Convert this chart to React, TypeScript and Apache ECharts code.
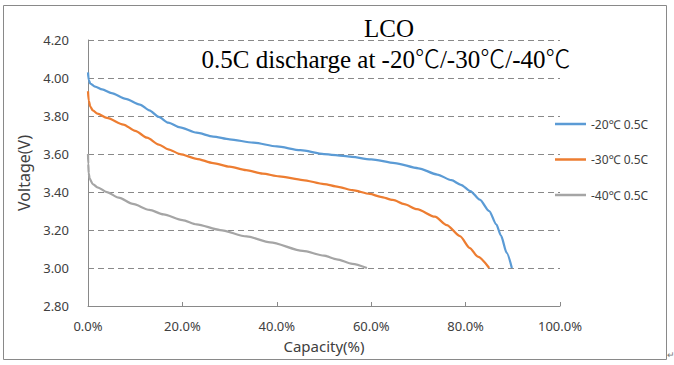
import React, { useEffect, useRef } from "react";
import * as echarts from "echarts";

const seriesNames = ["-20℃ 0.5C", "-30℃ 0.5C", "-40℃ 0.5C"];
const seriesColors = ["#5B9BD5", "#ED7D31", "#A5A5A5"];

// [capacity %, voltage V]
const minus20: [number, number][] = [
  [0, 4.03], [0.15, 3.99], [0.5, 3.97], [1.5, 3.955], [3, 3.94], [5, 3.92], [8, 3.89],
  [11, 3.86], [13, 3.83], [15, 3.795], [17, 3.765], [19.5, 3.74], [23, 3.712],
  [26.5, 3.692], [30, 3.677], [35, 3.66], [40, 3.64], [45, 3.62], [50, 3.60],
  [55, 3.588], [60, 3.572], [65, 3.552], [70, 3.525], [74, 3.492], [77, 3.462],
  [79, 3.438], [81, 3.405], [83, 3.36], [85, 3.30], [86.5, 3.23], [87.5, 3.17],
  [88.7, 3.08], [89.8, 3.0],
];
const minus30: [number, number][] = [
  [0, 3.93], [0.15, 3.88], [0.5, 3.85], [1, 3.83], [2, 3.812], [4, 3.79], [7.5, 3.755],
  [10, 3.722], [12.5, 3.686], [15, 3.65], [17, 3.625], [19.5, 3.60], [23, 3.575],
  [26.5, 3.552], [30, 3.533], [33.5, 3.515], [37, 3.497], [40.5, 3.482], [45.5, 3.463],
  [50, 3.442], [53, 3.427], [56, 3.41], [59.7, 3.39], [62, 3.375], [64.6, 3.358],
  [67, 3.336], [69.7, 3.31], [73.5, 3.27], [76, 3.226], [78.8, 3.168], [80.9, 3.105],
  [82.6, 3.06], [85, 3.0],
];
const minus40: [number, number][] = [
  [0, 3.60], [0.05, 3.55], [0.15, 3.50], [0.35, 3.47], [1, 3.442], [2, 3.425], [4, 3.40],
  [6.5, 3.37], [9.5, 3.337], [13, 3.306], [16, 3.282], [20, 3.252], [23, 3.23],
  [28, 3.20], [33.6, 3.166], [38.6, 3.135], [45.5, 3.09], [50, 3.065], [52.7, 3.046],
  [56, 3.022], [59.1, 3.0],
];
const seriesData = [minus20, minus30, minus40];

const xTicks = { min: 0, max: 100, interval: 20 };
const yTicks = { min: 2.8, max: 4.2, interval: 0.2 };

const titleText = "LCO";
const subtitleText = "0.5C discharge at -20℃/-30℃/-40℃";
const xName = "Capacity(%)";
const yName = "Voltage(V)";

const axisGray = "#898989";
const textColor = "#404040";
const sans = "Noto Sans";
const serif = "'Liberation Serif', 'Noto Sans CJK SC'";

export default function App() {
  const ref = useRef<HTMLDivElement>(null);
  useEffect(() => {
    document.body.style.margin = "0";
    if (!ref.current) return;
    const chart = echarts.init(ref.current, null, { renderer: "svg" });
    chart.setOption({
      animation: false,
      backgroundColor: "#ffffff",
      title: [
        {
          text: titleText,
          left: 384,
          top: 11,
          textAlign: "center",
          textStyle: { fontFamily: serif, fontSize: 25, fontWeight: "normal", color: "#000" },
        },
        {
          text: subtitleText,
          left: 381,
          top: 42,
          textAlign: "center",
          textStyle: { fontFamily: serif, fontSize: 25, fontWeight: 300, color: "#000" },
        },
      ],
      legend: {
        orient: "vertical",
        left: 555,
        top: 116,
        padding: 0,
        icon: "rect",
        itemWidth: 31,
        itemHeight: 2.5,
        itemGap: 19.5,
        textStyle: { fontFamily: sans, fontSize: 12, color: textColor, lineHeight: 16 },
        data: seriesNames,
      },
      grid: { left: 88, right: 114, top: 40, bottom: 59 },
      xAxis: {
        type: "value",
        min: xTicks.min,
        max: xTicks.max,
        interval: xTicks.interval,
        name: xName,
        nameLocation: "middle",
        nameGap: 32,
        nameTextStyle: { fontFamily: sans, fontSize: 15, color: textColor },
        axisLine: { lineStyle: { color: axisGray, width: 1 } },
        axisTick: { show: true, inside: true, length: 4, lineStyle: { color: axisGray } },
        axisLabel: {
          margin: 13,
          fontFamily: sans,
          fontSize: 13,
          color: textColor,
          formatter: (v: number) => v.toFixed(1) + "%",
        },
        splitLine: { show: false },
      },
      yAxis: {
        type: "value",
        min: yTicks.min,
        max: yTicks.max,
        interval: yTicks.interval,
        name: yName,
        nameLocation: "middle",
        nameGap: 52,
        nameTextStyle: { fontFamily: sans, fontSize: 16, color: textColor },
        axisLine: { show: true, lineStyle: { color: axisGray, width: 1 } },
        axisTick: { show: false },
        axisLabel: {
          margin: 19,
          fontFamily: sans,
          fontSize: 13,
          color: textColor,
          formatter: (v: number) => v.toFixed(2),
        },
        splitLine: { show: true, lineStyle: { color: axisGray, type: [6, 4], width: 1 } },
      },
      series: seriesNames.map((name, i) => ({
        name,
        type: "line",
        data: seriesData[i],
        showSymbol: false,
        smooth: 0.25,
        smoothMonotone: "x",
        color: seriesColors[i],
        lineStyle: { width: 2.25, color: seriesColors[i] },
      })),
      graphic: [
        {
          type: "rect",
          shape: { x: 3.5, y: 5.5, width: 663, height: 354 },
          style: { fill: "none", stroke: axisGray, lineWidth: 1 },
          silent: true,
        },
        {
          type: "text",
          x: 667,
          y: 350,
          style: { text: "↵", fontSize: 9, fill: "#777", fontFamily: sans },
          silent: true,
        },
      ],
    });
    return () => chart.dispose();
  }, []);
  return <div ref={ref} style={{ width: 674, height: 365 }} />;
}
